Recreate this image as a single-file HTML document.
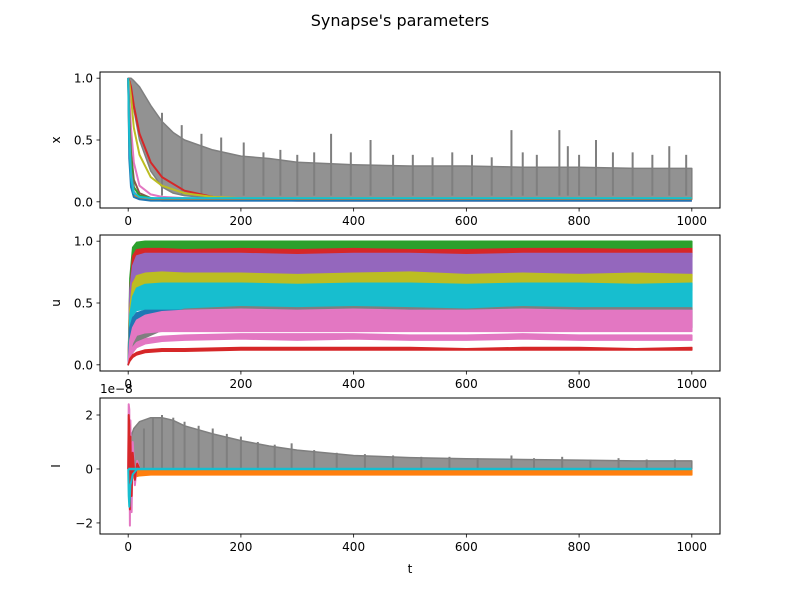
<!DOCTYPE html>
<html><head><meta charset="utf-8"><style>
body{margin:0;background:#fff;}
svg{display:block;font-family:"DejaVu Sans","Liberation Sans",sans-serif;}
</style></head><body>
<svg id="fig" width="800" height="600" xmlns="http://www.w3.org/2000/svg">
<rect width="800" height="600" fill="#fff"/>
<text x="400" y="26" text-anchor="middle" font-size="16">Synapse's parameters</text>
</svg>
<script>
// ---------- data ----------
const xTicks=[0,200,400,600,800,1000];
const xTickLabels=["0","200","400","600","800","1000"];
const xYTicks=[0,0.5,1.0];const xYTickLabels=["0.0","0.5","1.0"];
const uYTicks=[0,0.5,1.0];const uYTickLabels=["0.0","0.5","1.0"];
const iYTicks=[-2,0,2];const iYTickLabels=["\u22122","0","2"];

// x panel: decaying series
const decT=[0,2,5,10,20,40,60,100,150,200,300,1000];
const xBlue=[1,0.35,0.12,0.04,0.02,0.01,0.01,0.01,0.01,0.01,0.01,0.01];
const xOrange=[1,0.45,0.18,0.06,0.03,0.02,0.02,0.02,0.02,0.02,0.02,0.02];
const xGreen=[1,0.65,0.35,0.12,0.05,0.03,0.02,0.02,0.02,0.02,0.02,0.02];
const xPurple=[1,0.55,0.25,0.08,0.03,0.02,0.01,0.01,0.01,0.01,0.01,0.01];
const xBrown=[1,0.7,0.4,0.18,0.07,0.03,0.02,0.02,0.02,0.02,0.02,0.02];
const xPink=[1,0.85,0.6,0.32,0.13,0.06,0.04,0.03,0.02,0.02,0.02,0.02];
const xOlive=[1,0.96,0.85,0.6,0.38,0.2,0.13,0.07,0.04,0.03,0.03,0.03];
const xRed=[1,0.98,0.93,0.78,0.55,0.32,0.2,0.09,0.04,0.02,0.01,0.01];
const xCyan=[1,0.5,0.2,0.07,0.04,0.03,0.03,0.03,0.03,0.03,0.03,0.03];
// x panel grey band
const bandT=[0,5,10,20,40,60,80,100,150,200,250,300,400,500,600,700,800,900,1000];
const xGreyHi=[1,1,0.98,0.93,0.78,0.65,0.56,0.5,0.42,0.37,0.35,0.32,0.3,0.29,0.29,0.28,0.28,0.27,0.27];
const xGreyLo=[1,0.92,0.75,0.5,0.25,0.12,0.07,0.05,0.03,0.02,0.02,0.02,0.02,0.02,0.02,0.02,0.02,0.02,0.02];
const xSpikeT=[60,95,130,165,205,240,270,300,330,360,395,430,470,505,540,575,610,645,680,700,725,765,780,800,830,860,895,930,960,990];
const xSpikeV=[0.72,0.62,0.55,0.52,0.48,0.4,0.42,0.38,0.4,0.55,0.4,0.5,0.38,0.38,0.36,0.4,0.38,0.36,0.58,0.4,0.38,0.58,0.45,0.38,0.5,0.4,0.4,0.38,0.45,0.38];

// u panel bands
const uT=[0,3,8,15,30,60,100,200,300,400,500,600,700,800,900,1000];
const uGreenLo=[0,0.5,0.8,0.9,0.93,0.93,0.94,0.94,0.93,0.94,0.94,0.93,0.94,0.94,0.94,0.94];
const uGreenHi=[0,0.7,0.95,0.99,1,1,1,1,1,1,1,1,1,1,1,1];
const uRedLo=[0,0.5,0.8,0.86,0.87,0.87,0.86,0.87,0.86,0.87,0.87,0.86,0.87,0.87,0.87,0.87];
const uRedHi=[0,0.6,0.88,0.93,0.94,0.94,0.93,0.94,0.93,0.94,0.93,0.93,0.94,0.94,0.93,0.94];
const uPurpleLo=[0,0.45,0.65,0.7,0.72,0.72,0.72,0.73,0.72,0.72,0.73,0.72,0.72,0.73,0.72,0.72];
const uPurpleHi=[0,0.6,0.8,0.88,0.9,0.9,0.9,0.9,0.89,0.9,0.9,0.89,0.9,0.9,0.9,0.9];
const uOliveLo=[0,0.35,0.55,0.6,0.6,0.61,0.62,0.6,0.61,0.6,0.62,0.6,0.61,0.6,0.61,0.6];
const uOliveHi=[0,0.45,0.65,0.72,0.74,0.75,0.74,0.74,0.73,0.74,0.75,0.73,0.74,0.73,0.74,0.73];
const uOrangeLo=[0,0.4,0.6,0.66,0.67,0.68,0.68,0.68,0.67,0.68,0.68,0.67,0.68,0.68,0.67,0.68];
const uOrangeHi=[0,0.45,0.66,0.71,0.72,0.73,0.73,0.73,0.72,0.73,0.73,0.72,0.73,0.73,0.72,0.73];
const uCyanLo=[0,0.3,0.4,0.44,0.45,0.45,0.45,0.45,0.44,0.45,0.45,0.44,0.45,0.45,0.44,0.45];
const uCyanHi=[0,0.4,0.55,0.62,0.65,0.66,0.66,0.66,0.65,0.66,0.66,0.65,0.66,0.66,0.65,0.66];
const uGreyLo=[0,0.05,0.1,0.15,0.22,0.28,0.3,0.3,0.31,0.3,0.31,0.3,0.3,0.31,0.3,0.3];
const uGreyHi=[0,0.1,0.18,0.25,0.32,0.4,0.45,0.47,0.46,0.47,0.46,0.45,0.47,0.46,0.46,0.46];
const uBlueLo=[0,0.2,0.28,0.3,0.3,0.3,0.3,0.31,0.3,0.31,0.3,0.3,0.31,0.3,0.3,0.3];
const uBlueHi=[0,0.3,0.38,0.42,0.44,0.44,0.44,0.44,0.43,0.44,0.44,0.43,0.44,0.44,0.43,0.44];
const uPinkLo=[0,0.1,0.18,0.24,0.26,0.27,0.27,0.27,0.27,0.27,0.27,0.27,0.27,0.27,0.27,0.27];
const uPinkHi=[0,0.2,0.3,0.36,0.4,0.43,0.44,0.45,0.44,0.45,0.44,0.44,0.45,0.44,0.44,0.44];
const uPink2Lo=[0,0.05,0.1,0.14,0.17,0.19,0.2,0.21,0.2,0.21,0.2,0.2,0.21,0.2,0.2,0.2];
const uPink2Hi=[0,0.08,0.14,0.18,0.21,0.23,0.24,0.25,0.25,0.25,0.24,0.24,0.25,0.24,0.24,0.24];
const uRed2Lo=[0,0.03,0.06,0.08,0.1,0.11,0.11,0.12,0.12,0.12,0.12,0.12,0.12,0.12,0.12,0.12];
const uRed2Hi=[0,0.05,0.08,0.1,0.12,0.13,0.13,0.14,0.14,0.14,0.14,0.13,0.14,0.14,0.13,0.14];

// I panel (units of 1e-8)
const iT=[0,5,10,20,40,60,80,100,150,200,250,300,400,500,600,700,800,900,1000];
const iGreyHi=[0,1.2,1.5,1.75,1.9,1.9,1.8,1.6,1.3,1.05,0.85,0.7,0.5,0.42,0.38,0.35,0.33,0.3,0.3];
const iGreyLo=[0,0,0,0,0,0,0,0,0,0,0,0,0,0,0,0,0,0,0];
const iOrangeHi=[0,0,-0.05,-0.05,-0.05,-0.05,-0.05,-0.05,-0.05,-0.05,-0.05,-0.05,-0.05,-0.05,-0.05,-0.05,-0.05,-0.05,-0.05];
const iOrangeLo=[0,-0.4,-0.3,-0.25,-0.22,-0.22,-0.22,-0.22,-0.22,-0.22,-0.22,-0.22,-0.22,-0.22,-0.22,-0.22,-0.22,-0.22,-0.22];
const iSpikeT=[28,44,60,80,100,125,150,175,200,230,260,290,330,370,420,470,520,570,620,680,720,770,820,870,920,970];
const iSpikeV=[1.5,1.9,2.0,1.9,1.75,1.6,1.5,1.3,1.2,1.0,0.9,0.95,0.7,0.6,0.55,0.5,0.45,0.45,0.4,0.5,0.4,0.45,0.35,0.4,0.35,0.35];
const iInitT=[0,1,2,3,4,6,8,12,16,20];
const iPinkV=[0,2.4,2.2,-2.1,1.8,-1.6,1.0,-0.6,0.3,0];
const iRedV=[0,2.0,1.6,-1.5,1.2,-1.0,0.6,-0.4,0.2,0];
const iCyanV=[0,-1.0,-1.4,-1.0,-0.6,-0.4,-0.2,-0.1,0,0];

// ---------- drawing ----------
const C={blue:"#1f77b4",orange:"#ff7f0e",green:"#2ca02c",red:"#d62728",purple:"#9467bd",brown:"#8c564b",pink:"#e377c2",grey:"#7f7f7f",olive:"#bcbd22",cyan:"#17becf"};
const NS="http://www.w3.org/2000/svg";
const svg=document.getElementById('fig');
function el(tag,attrs,parent){const e=document.createElementNS(NS,tag);for(const k in attrs)e.setAttribute(k,attrs[k]);(parent||svg).appendChild(e);return e;}
function sx(t){return 100+(t+50)/1100*620;}
const P=[
 {name:"x",top:72,h:136,ymin:-0.05,ymax:1.05,ticks:xYTicks,labels:xYTickLabels},
 {name:"u",top:235,h:136,ymin:-0.05,ymax:1.05,ticks:uYTicks,labels:uYTickLabels},
 {name:"I",top:398,h:136,ymin:-2.41,ymax:2.63,ticks:iYTicks,labels:iYTickLabels}
];
function sy(v,p){return p.top+(p.ymax-v)/(p.ymax-p.ymin)*p.h;}
function line(p,g,T,V,color,w,name){
 const pts=T.map((t,i)=>sx(t).toFixed(1)+","+sy(V[i],p).toFixed(1)).join(" ");
 const e=el('polyline',{points:pts,fill:"none",stroke:color,"stroke-width":w,"stroke-linejoin":"round"},g);
 
 
}
function band(p,g,T,lo,hi,color,name,op){
 const a=T.map((t,i)=>sx(t).toFixed(1)+","+sy(hi[i],p).toFixed(1));
 const b=T.map((t,i)=>sx(t).toFixed(1)+","+sy(lo[i],p).toFixed(1)).reverse();
 const e=el('polygon',{points:a.concat(b).join(" "),fill:color,"fill-opacity":op||1,stroke:color,"stroke-width":1.5,"stroke-linejoin":"round"},g);
 
 
}
function spikes(p,g,T,V,base,color,name){
 const gg=el('g',{},g);
 
 
 T.forEach((t,i)=>{
  const e=el('line',{x1:sx(t),x2:sx(t),y1:sy(base,p),y2:sy(V[i],p),stroke:color,"stroke-width":2},gg);
  
  
 });
}
P.forEach((p,pi)=>{
 const ax=el('g',{});
 
 
 const cp=el('clipPath',{id:'cp'+pi},ax);
 el('rect',{x:100,y:p.top,width:620,height:p.h},cp);
 const g=el('g',{'clip-path':'url(#cp'+pi+')'},ax);
 
 
 if(pi===0){
  band(p,g,bandT,xGreyLo,xGreyHi,C.grey,'x-grey-band',0.85);
  spikes(p,g,xSpikeT,xSpikeV,0.05,C.grey,'x-grey-spikes');
  line(p,g,decT,xRed,C.red,2,'x-red');
  line(p,g,decT,xOlive,C.olive,2,'x-olive');
  line(p,g,decT,xPink,C.pink,2,'x-pink');
  line(p,g,decT,xBrown,C.brown,2,'x-brown');
  line(p,g,decT,xGreen,C.green,2,'x-green');
  line(p,g,decT,xPurple,C.purple,2,'x-purple');
  line(p,g,decT,xOrange,C.orange,2,'x-orange');
  line(p,g,decT,xBlue,C.blue,2,'x-blue');
  line(p,g,decT,xCyan,C.cyan,2,'x-cyan');
 } else if(pi===1){
  band(p,g,uT,uGreenLo,uGreenHi,C.green,'u-green');
  band(p,g,uT,uRedLo,uRedHi,C.red,'u-red');
  band(p,g,uT,uPurpleLo,uPurpleHi,C.purple,'u-purple');
  band(p,g,uT,uOrangeLo,uOrangeHi,C.orange,'u-orange');
  band(p,g,uT,uOliveLo,uOliveHi,C.olive,'u-olive');
  band(p,g,uT,uCyanLo,uCyanHi,C.cyan,'u-cyan');
  band(p,g,uT,uGreyLo,uGreyHi,C.grey,'u-grey');
  band(p,g,uT,uBlueLo,uBlueHi,C.blue,'u-blue');
  band(p,g,uT,uPinkLo,uPinkHi,C.pink,'u-pink');
  band(p,g,uT,uPink2Lo,uPink2Hi,C.pink,'u-pink-low');
  band(p,g,uT,uRed2Lo,uRed2Hi,C.red,'u-red-low');
 } else {
  band(p,g,iT,iGreyLo,iGreyHi,C.grey,'i-grey-band',0.85);
  spikes(p,g,iSpikeT,iSpikeV,0,C.grey,'i-grey-spikes');
  band(p,g,iT,iOrangeLo,iOrangeHi,C.orange,'i-orange-band');
  line(p,g,iInitT,iPinkV,C.pink,2,'i-pink');
  line(p,g,iInitT,iRedV,C.red,2,'i-red');
  line(p,g,iInitT,iCyanV,C.cyan,2,'i-cyan-init');
  line(p,g,[0,1000],[0,0],C.cyan,2.5,'i-cyan');
 }
 const fr=el('rect',{x:100,y:p.top,width:620,height:p.h,fill:"none",stroke:"#000","stroke-width":1},ax);
 
 
 const bot=p.top+p.h;
 xTicks.forEach((t,i)=>{
  el('line',{x1:sx(t),x2:sx(t),y1:bot,y2:bot+3.5,stroke:"#000","stroke-width":0.8},ax);
  const tx=el('text',{x:sx(t),y:bot+17,"text-anchor":"middle","font-size":"12"},ax);
  tx.textContent=xTickLabels[i];
  
  
 });
 p.ticks.forEach((v,i)=>{
  el('line',{x1:96.5,x2:100,y1:sy(v,p),y2:sy(v,p),stroke:"#000","stroke-width":0.8},ax);
  const tx=el('text',{x:93,y:sy(v,p)+4.5,"text-anchor":"end","font-size":"12"},ax);
  tx.textContent=p.labels[i];
  
  
 });
 const yl=el('text',{x:0,y:0,"text-anchor":"middle","font-size":"12",transform:"translate(60,"+(p.top+p.h/2)+") rotate(-90)"},ax);
 yl.textContent=p.name;
 
 
});
const off=el('text',{x:100,y:393,"font-size":"12"});
off.textContent="1e\u22128";


const xl=el('text',{x:410,y:573,"text-anchor":"middle","font-size":"12"});
xl.textContent="t";


</script>
</body></html>
